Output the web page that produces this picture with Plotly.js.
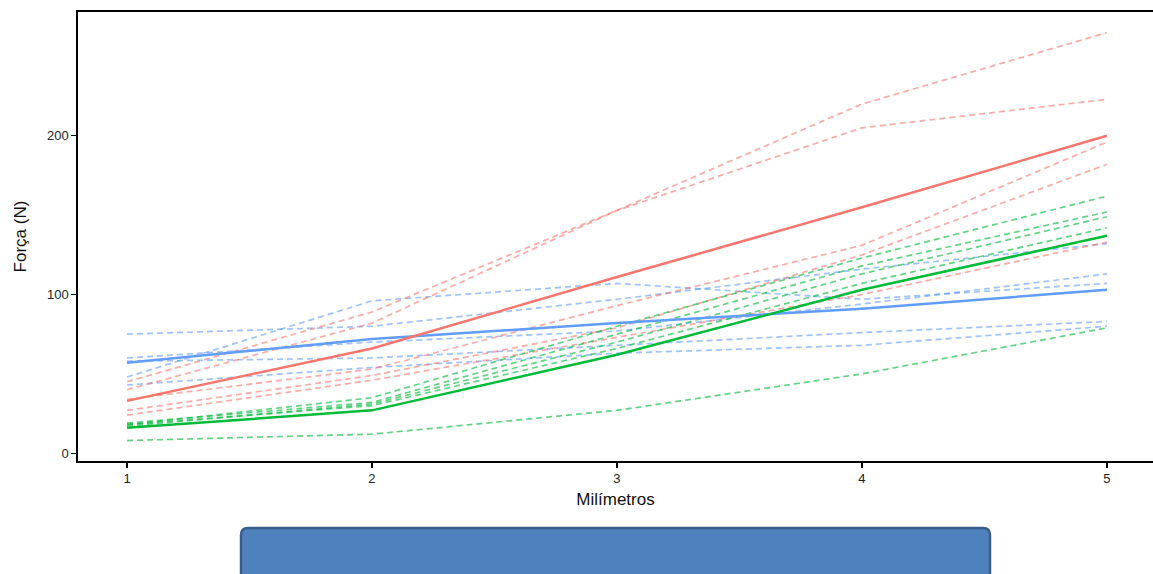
<!DOCTYPE html>
<html>
<head>
<meta charset="utf-8">
<script src="https://cdn.plot.ly/plotly-3.0.1.min.js"></script>
<style>html,body{margin:0;padding:0;background:#fff;}#chart{width:1153px;height:574px;}</style>
</head>
<body>
<div id="chart"></div>
<script>
// Data
var milimetros = [1, 2, 3, 4, 5];
var xTicks = [1, 2, 3, 4, 5];
var yTicks = [0, 100, 200];

// red group
var redMean = [33, 66, 111, 155, 200];
var red1 = [45, 89, 153, 220, 265];
var red2 = [40, 82, 153, 205, 223];
var red3 = [34, 53, 93, 131, 196];
var red4 = [27, 49, 79, 125, 182];
var red5 = [24, 46, 73, 100, 133];

// green group
var greenMean = [16, 27, 62, 103, 137];
var green1 = [18, 35, 80, 123, 162];
var green2 = [19, 32, 75, 118, 152];
var green3 = [17, 31, 70, 113, 149];
var green4 = [18, 30, 66, 107, 142];
var green5 = [8, 12, 27, 50, 79];

// blue group
var blueMean = [57, 72, 82, 91, 103];
var blue1 = [48, 96, 107, 97, 107];
var blue2 = [75, 80, 97, 116, 132];
var blue3 = [60, 70, 77, 94, 113];
var blue4 = [58, 60, 68, 76, 83];
var blue5 = [43, 54, 63, 68, 80];

var RED = '#F8766D', GREEN = '#00BA38', BLUE = '#619CFF';

function dashed(y, color) {
  return {x: milimetros, y: y, type: 'scatter', mode: 'lines', opacity: 0.62,
    line: {color: color, width: 1.7, dash: '6px,4px'}, hoverinfo: 'skip', showlegend: false};
}
function solid(y, color) {
  return {x: milimetros, y: y, type: 'scatter', mode: 'lines',
    line: {color: color, width: 2.5}, showlegend: false};
}

var traces = [
  dashed(blue1, BLUE), dashed(blue2, BLUE), dashed(blue3, BLUE), dashed(blue4, BLUE), dashed(blue5, BLUE),
  dashed(red1, RED), dashed(red2, RED), dashed(red3, RED), dashed(red4, RED), dashed(red5, RED),
  dashed(green1, GREEN), dashed(green2, GREEN), dashed(green3, GREEN), dashed(green4, GREEN), dashed(green5, GREEN),
  solid(blueMean, BLUE), solid(redMean, RED), solid(greenMean, GREEN)
];

// rounded rectangle (paper coords)
var px0 = (241 - 78) / 1075, px1 = (990 - 78) / 1075;
var py1 = (461 - 528) / 449, py0 = (461 - 600) / 449;
var rx = 7 / 1075, ry = 7 / 449;
var rrPath = 'M ' + (px0 + rx) + ',' + py1 +
  ' L ' + (px1 - rx) + ',' + py1 +
  ' Q ' + px1 + ',' + py1 + ' ' + px1 + ',' + (py1 - ry) +
  ' L ' + px1 + ',' + py0 +
  ' L ' + px0 + ',' + py0 +
  ' L ' + px0 + ',' + (py1 - ry) +
  ' Q ' + px0 + ',' + py1 + ' ' + (px0 + rx) + ',' + py1 + ' Z';

var layout = {
  width: 1153, height: 574,
  margin: {l: 78, r: 0, t: 12, b: 113, pad: 0},
  paper_bgcolor: '#ffffff', plot_bgcolor: '#ffffff',
  font: {family: 'Liberation Sans, Arial, sans-serif', color: '#222222'},
  xaxis: {
    range: [0.8, 5.188], tickvals: xTicks, ticktext: xTicks.map(String),
    showgrid: false, zeroline: false, showline: true, linecolor: '#000000', linewidth: 1.6, mirror: true,
    ticks: 'outside', ticklen: 5, tickwidth: 1.3, tickcolor: '#000000',
    tickfont: {size: 13, color: '#222222'},
    title: {text: 'Milímetros', font: {size: 17, color: '#111111'}, standoff: 8}
  },
  yaxis: {
    range: [-4.9, 278], tickvals: yTicks, ticktext: yTicks.map(String),
    showgrid: false, zeroline: false, showline: true, linecolor: '#000000', linewidth: 1.6,
    ticks: 'outside', ticklen: 5, tickwidth: 1.3, tickcolor: '#000000',
    tickfont: {size: 13, color: '#222222'},
    title: {text: 'Força (N)', font: {size: 17, color: '#111111'}, standoff: 16}
  },
  shapes: [{
    type: 'path', xref: 'paper', yref: 'paper', path: rrPath,
    fillcolor: '#4F81BD', line: {color: '#385D8A', width: 2.5}, layer: 'above'
  }]
};

Plotly.newPlot('chart', traces, layout, {displayModeBar: false, staticPlot: true});
</script>
</body>
</html>
